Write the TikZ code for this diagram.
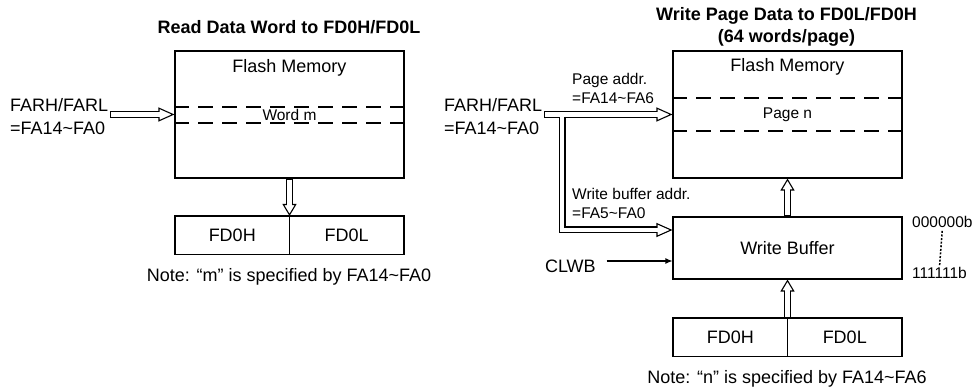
\documentclass[tikz,border=0pt]{standalone}
\usepackage{fontspec}
\setmainfont{Liberation Sans}
\usetikzlibrary{arrows.meta, positioning}

\tikzset{
  box/.style={draw, line width=1.1pt, minimum width=229pt, inner sep=0pt},
  half/.style={draw, line width=1.1pt, minimum width=114.5pt, minimum height=38.5pt, inner sep=0pt, outer sep=0pt},
  ttl/.style={font=\fontsize{18}{22}\selectfont\bfseries, align=center},
  sml/.style={font=\fontsize{15.5}{19}\selectfont, align=left, inner sep=0pt},
  lbl/.style={align=left, inner sep=0pt, outer sep=2pt},
  dashln/.style={line width=1.2pt, dash pattern=on 15pt off 9pt},
  blkarrow/.style={line width=7pt, -{Triangle[fill=white, line width=1.1pt, length=#1, width=14pt]}},
  blk/.style={blkarrow=#1, postaction={draw=white, line width=4.6pt, -, shorten >=#1-1.6pt, shorten <=1.2pt}},
  blk/.default=16pt,
  blkbranch/.style={blkarrow=16pt, postaction={draw=white, line width=4.6pt, -, shorten >=14.4pt}},
  sig/.style={line width=1.1pt, -{Latex[length=7pt, width=6pt]}},
  addrdots/.style={line width=1.5pt, dash pattern=on 2pt off 1.6pt, shorten <=3pt, shorten >=2pt}
}

\begin{document}
\begin{tikzpicture}[x=1pt, y=-1pt, font=\fontsize{18}{23}\selectfont]
  \useasboundingbox (0,0) rectangle (972,387);

  % read data word
  \node[ttl] (rtitle) at (289,27) {Read Data Word to FD0H/FD0L};
  \node[box, minimum height=127pt] (rflash) at (289.5,114.5) {};
  \node (rflashlbl) at (289.5,68) {Flash Memory};
  \draw[dashln] (rflash.west |- 0,107) -- (rflash.east |- 0,107);
  \draw[dashln] (rflash.west |- 0,123) -- (rflash.east |- 0,123);
  \node[sml] (rword) at (289.5,115) {Word m};
  \node[lbl, anchor=west] (rfar) at (8,116.5) {FARH/FARL\\=FA14\textasciitilde FA0};
  \node[half, anchor=north east] (rfdh) at (289.5,216) {FD0H};
  \node[half, right=0pt of rfdh] (rfdl) {FD0L};
  \node (rnote) at (289,277) {Note: “m” is specified by FA14\textasciitilde FA0};

  \draw[blk] (rfar.east |- rflash.west) -- (rflash.west);
  \draw[blk=12pt] (rflash.south) -- (rfdh.north east);

  % write page data
  \node[ttl] (wtitle) at (786.5,27) {Write Page Data to FD0L/FD0H\\(64 words/page)};
  \node[box, minimum height=127pt] (wflash) at (787.5,114.5) {};
  \node (wflashlbl) at (787.5,67) {Flash Memory};
  \draw[dashln] (wflash.west |- 0,98) -- (wflash.east |- 0,98);
  \draw[dashln] (wflash.west |- 0,131) -- (wflash.east |- 0,131);
  \node[sml] (wpage) at (787.5,115) {Page n};
  \node[lbl, anchor=west] (wfar) at (442,116.5) {FARH/FARL\\=FA14\textasciitilde FA0};
  \node[sml, anchor=west] (wpaddr) at (572,88.5) {Page addr.\\=FA14\textasciitilde FA6};
  \node[box, minimum height=62pt] (wbuf) at (787.5,248) {Write Buffer};
  \node[sml, anchor=west] (wbaddr) at (572,203.5) {Write buffer addr.\\=FA5\textasciitilde FA0};
  \node[lbl, anchor=west] (clwb) at (543,266) {CLWB};
  \node[half, anchor=north east] (wfdh) at (787.5,318) {FD0H};
  \node[half, right=0pt of wfdh] (wfdl) {FD0L};
  \node[sml, anchor=west] (a0) at (912,222) {000000b};
  \node[sml, anchor=west] (a1) at (912,273) {111111b};
  \node (wnote) at (787,379) {Note: “n” is specified by FA14\textasciitilde FA6};

  \coordinate (wj) at (562,116.8);
  \coordinate (wbin) at (wbuf.west |- 0,230);
  \coordinate (clwbin) at (wbuf.west |- 0,261);

  \draw[blk] (wfar.east |- wflash.west) -- (wflash.west);
  \draw[blkbranch] (wj) |- (wbin);
  \draw[sig] ([xshift=9pt]clwb.east |- clwbin) -- (clwbin);
  \draw[blk=12pt] (wbuf.north) -- (wflash.south);
  \draw[blk=12pt] (wfdh.north east) -- (wbuf.south);
  \draw[addrdots] (a0.south) -- (a1.north);
\end{tikzpicture}
\end{document}
